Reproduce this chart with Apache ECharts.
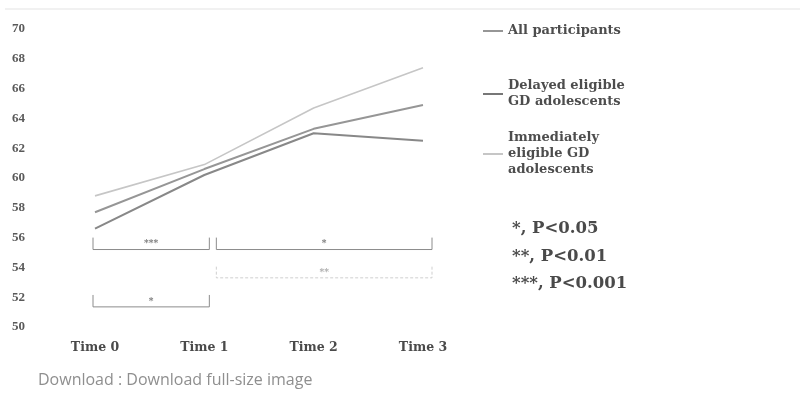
<!DOCTYPE html>
<html>
<head>
<meta charset="utf-8">
<script src="https://cdn.jsdelivr.net/npm/echarts@6/dist/echarts.min.js"></script>
<style>html,body{margin:0;padding:0;background:#fff;}#c{width:804px;height:398px;}</style>
</head>
<body>
<div id="c"></div>
<script>
const categories = ['Time 0', 'Time 1', 'Time 2', 'Time 3'];
const allParticipants = [57.7, 60.6, 63.3, 64.9];
const delayedEligible = [56.6, 60.2, 63.0, 62.5];
const immediatelyEligible = [58.8, 60.9, 64.7, 67.4];
const seriesNames = ['All participants', 'Delayed eligible\nGD adolescents', 'Immediately\neligible GD\nadolescents'];
const yMin = 50, yMax = 70, yStep = 2;
// significance brackets: [fromCategory, toCategory, topValue, bottomValue]
const bracketSpans = [[0, 1, 56.0, 55.2], [1, 3, 56.0, 55.2], [1, 3, 54.05, 53.3], [0, 1, 52.15, 51.35]];
const bracketLabels = ['***', '*', '**', '*'];
const pLegend = ['*, P<0.05', '**, P<0.01', '***, P<0.001'];
const footer = 'Download : Download full-size image';

const serif = 'DejaVu Serif';
const chart = echarts.init(document.getElementById('c'), null, {renderer: 'canvas'});

function legendFor(idx, top, lines) {
  return {
    data: [seriesNames[idx]],
    left: 478, top: top,
    orient: 'vertical',
    icon: 'rect', itemWidth: 20, itemHeight: 2,
    selectedMode: false,
    textStyle: {fontFamily: serif, fontWeight: 'bold', fontSize: 13, color: '#4d4d4d', lineHeight: 16,
                padding: [(lines - 1) * 16, 0, 0, 0]}
  };
}

const bracketData = bracketSpans.map((b, i) => ({value: b, label: bracketLabels[i]}));

chart.setOption({
  animation: false,
  grid: {left: 95, right: 381, top: 29, bottom: 71},
  xAxis: {
    type: 'category', data: categories, boundaryGap: false,
    axisLine: {show: false}, axisTick: {show: false}, splitLine: {show: false},
    axisLabel: {margin: 14, fontFamily: serif, fontWeight: 'bold', fontSize: 12.5, color: '#4a4a4a'}
  },
  yAxis: {
    type: 'value', min: yMin, max: yMax, interval: yStep,
    axisLine: {show: false}, axisTick: {show: false}, splitLine: {show: false},
    axisLabel: {margin: 70, fontFamily: 'Liberation Serif', fontWeight: 'bold', fontSize: 13, color: '#5a5a5a'}
  },
  legend: [legendFor(0, 18, 1), legendFor(1, 65, 2), legendFor(2, 109, 3)],
  series: [
    {name: seriesNames[0], type: 'line', data: allParticipants, symbol: 'none',
     lineStyle: {color: '#969696', width: 2}, itemStyle: {color: '#969696'}},
    {name: seriesNames[1], type: 'line', data: delayedEligible, symbol: 'none',
     lineStyle: {color: '#888888', width: 2}, itemStyle: {color: '#777777'}},
    {name: seriesNames[2], type: 'line', data: immediatelyEligible, symbol: 'none',
     lineStyle: {color: '#c6c6c6', width: 1.6}, itemStyle: {color: '#c6c6c6'}},
    {type: 'custom', data: bracketData, silent: true, z: 1,
     renderItem: function (params, api) {
       const from = api.value(0), to = api.value(1);
       const yTop = api.coord([0, api.value(2)])[1];
       const yBot = api.coord([0, api.value(3)])[1];
       const x0 = api.coord([from, yMin])[0] + (from === 0 ? -2 : 12);
       const x1 = api.coord([to, yMin])[0] + (to === 1 ? 5 : 9);
       const faint = params.dataIndex === 2;
       const color = faint ? '#cfcfcf' : '#8c8c8c';
       return {
         type: 'group',
         children: [
           {type: 'polyline', shape: {points: [[x0, yTop], [x0, yBot], [x1, yBot], [x1, yTop]]},
            style: {stroke: color, lineWidth: 1, fill: null, lineDash: faint ? [3, 2] : null}},
           {type: 'text', style: {text: bracketLabels[params.dataIndex], x: (x0 + x1) / 2, y: yBot - 1,
            align: 'center', verticalAlign: 'bottom', fontSize: 9, fontFamily: serif, fontWeight: 'bold',
            fill: faint ? '#aaa' : '#777'}}
         ]
       };
     }}
  ],
  graphic: [
    {type: 'line', shape: {x1: 5, y1: 9, x2: 800, y2: 9}, style: {stroke: '#ececec', lineWidth: 1.5}},
    {type: 'text', left: 512, top: 220, style: {text: pLegend[0], fontFamily: serif, fontWeight: 'bold', fontSize: 16.5, fill: '#4a4a4a'}},
    {type: 'text', left: 512, top: 248, style: {text: pLegend[1], fontFamily: serif, fontWeight: 'bold', fontSize: 16.5, fill: '#4a4a4a'}},
    {type: 'text', left: 512, top: 275, style: {text: pLegend[2], fontFamily: serif, fontWeight: 'bold', fontSize: 16.5, fill: '#4a4a4a'}},
    {type: 'text', left: 38, top: 372, style: {text: footer, fontFamily: 'Open Sans', fontSize: 16, fill: '#8f8f8f'}}
  ]
});
</script>
</body>
</html>
